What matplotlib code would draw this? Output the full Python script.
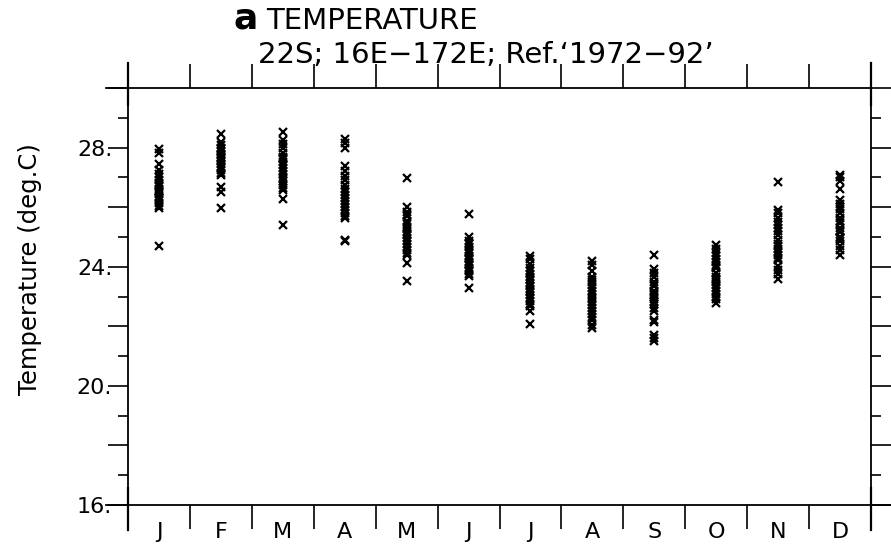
import matplotlib
matplotlib.use('Agg')
import matplotlib.pyplot as plt
import matplotlib.transforms as mtransforms

plt.rcParams['font.family'] = ['DejaVu Sans']

months = ['J', 'F', 'M', 'A', 'M', 'J', 'J', 'A', 'S', 'O', 'N', 'D']

# one value per year (1972-92) for each month
jan = [27.96, 27.82, 27.45, 27.26, 27.1, 27.0, 26.9, 26.8, 26.7, 26.6, 26.5,
       26.45, 26.35, 26.25, 26.15, 26.05, 25.98, 26.3, 26.55, 26.75, 24.71]
feb = [28.47, 28.18, 28.1, 28.0, 27.9, 27.8, 27.7, 27.6, 27.55, 27.45, 27.35,
       27.25, 27.15, 27.09, 27.75, 27.95, 26.66, 26.5, 25.97, 27.3, 27.65]
mar = [28.51, 28.27, 28.13, 28.0, 27.82, 27.7, 27.6, 27.5, 27.4, 27.3, 27.2,
       27.1, 27.0, 26.95, 26.87, 26.75, 26.64, 26.58, 26.28, 25.41, 27.65]
apr = [28.29, 28.15, 27.99, 27.37, 27.2, 27.05, 26.9, 26.75, 26.6, 26.5, 26.4,
       26.3, 26.2, 26.1, 26.0, 25.9, 25.8, 25.7, 25.64, 24.91, 24.85]
may = [26.98, 25.99, 25.85, 25.69, 25.55, 25.45, 25.35, 25.25, 25.15, 25.05, 24.95,
       24.85, 24.75, 24.65, 24.55, 24.45, 24.4, 24.12, 23.51, 25.75, 25.1]
jun = [25.77, 24.99, 24.85, 24.75, 24.65, 24.55, 24.45, 24.35, 24.25, 24.15, 24.05,
       23.95, 23.85, 23.75, 23.7, 24.5, 24.3, 24.1, 23.9, 24.8, 23.28]
jul = [24.35, 24.25, 24.1, 23.95, 23.85, 23.75, 23.65, 23.55, 23.45, 23.35, 23.25,
       23.15, 23.05, 22.95, 22.85, 22.75, 22.67, 22.5, 22.08, 23.6, 23.2]
aug = [24.18, 24.05, 23.85, 23.65, 23.5, 23.4, 23.3, 23.2, 23.1, 23.0, 22.9,
       22.8, 22.7, 22.6, 22.5, 22.4, 22.3, 22.22, 22.05, 21.94, 23.55]
sep = [24.38, 23.92, 23.8, 23.65, 23.5, 23.35, 23.2, 23.05, 22.9, 22.75, 22.6,
       22.5, 22.22, 22.15, 21.71, 21.6, 21.52, 23.1, 22.8, 23.0, 23.4]
oct_ = [24.74, 24.6, 24.45, 24.35, 24.25, 24.15, 24.05, 23.95, 23.8, 23.67, 23.6,
        23.5, 23.4, 23.3, 23.2, 23.1, 23.0, 22.9, 22.78, 24.0, 23.55]
nov = [26.83, 25.92, 25.8, 25.65, 25.5, 25.41, 25.19, 25.05, 24.9, 24.75, 24.6,
       24.5, 24.4, 24.24, 24.01, 23.9, 23.75, 23.6, 25.3, 24.3, 24.7]
dec = [27.09, 27.0, 26.87, 26.61, 26.25, 26.1, 25.95, 25.8, 25.65, 25.47, 25.3,
       25.15, 25.0, 24.85, 24.7, 24.57, 24.4, 26.0, 25.55, 24.95, 25.2]

data = [jan, feb, mar, apr, may, jun, jul, aug, sep, oct_, nov, dec]

fig = plt.figure(figsize=(8.91, 5.54), dpi=100)
ax = fig.add_axes([128 / 891, 1 - 505 / 554, 743 / 891, 417 / 554])

for i, vals in enumerate(data):
    ax.plot([i + 0.5] * len(vals), vals, 'x', color='black',
            markersize=5.5, markeredgewidth=1.6)

ax.set_xlim(0, 12)
ax.set_ylim(16, 30)

for s in ax.spines.values():
    s.set_linewidth(1.3)

# month boundary ticks top and bottom, labels centred on the months
ax.set_xticks(range(13))
ax.set_xticklabels([])
ax.set_xticks([m + 0.5 for m in range(12)], minor=True)
ax.set_xticklabels(months, minor=True, fontsize=16)
ax.tick_params(axis='x', which='major', direction='out', length=17, width=1.2,
               top=True, bottom=True)
ax.tick_params(axis='x', which='minor', length=0, pad=12)

ax.set_yticks(range(16, 31, 2))
ax.set_yticklabels(['16.', '', '20.', '', '24.', '', '28.', ''], fontsize=16)
ax.set_yticks(range(16, 31), minor=True)
ax.tick_params(axis='y', which='major', direction='out', length=14.4, width=1.2,
               left=True, right=True, pad=-3)
ax.tick_params(axis='y', which='minor', direction='out', length=7.2, width=1.2,
               left=True, right=True)

ax.set_ylabel('Temperature (deg.C)', fontsize=17.5)
ax.yaxis.set_label_coords(-0.116, 0.566)

# the plot's frame lines run a little past the corners
tr = mtransforms.blended_transform_factory(ax.transData, ax.transAxes)
for x0 in [0, 12]:
    ax.plot([x0, x0], [-0.06, 0.04], transform=tr, color='black', lw=1.6, clip_on=False)
    ax.plot([x0, x0], [0.96, 1.06], transform=tr, color='black', lw=1.6, clip_on=False)
ax.plot([-0.35, 0], [0, 0], transform=tr, color='black', lw=1.3, clip_on=False)
ax.plot([12, 12.4], [0, 0], transform=tr, color='black', lw=1.3, clip_on=False)
ax.plot([-0.35, 0], [1, 1], transform=tr, color='black', lw=1.3, clip_on=False)

fig.text(258 / 891, 0.948, 'a', fontsize=26, fontweight='bold', ha='right', va='baseline')
fig.text(266 / 891, 0.948, 'TEMPERATURE', fontsize=21, ha='left', va='baseline')
fig.text(486 / 891, 0.886, "22S; 16E\u2212172E; Ref.\u20181972\u221292\u2019", fontsize=21,
         ha='center', va='baseline')

plt.savefig('out.png', dpi=100)
